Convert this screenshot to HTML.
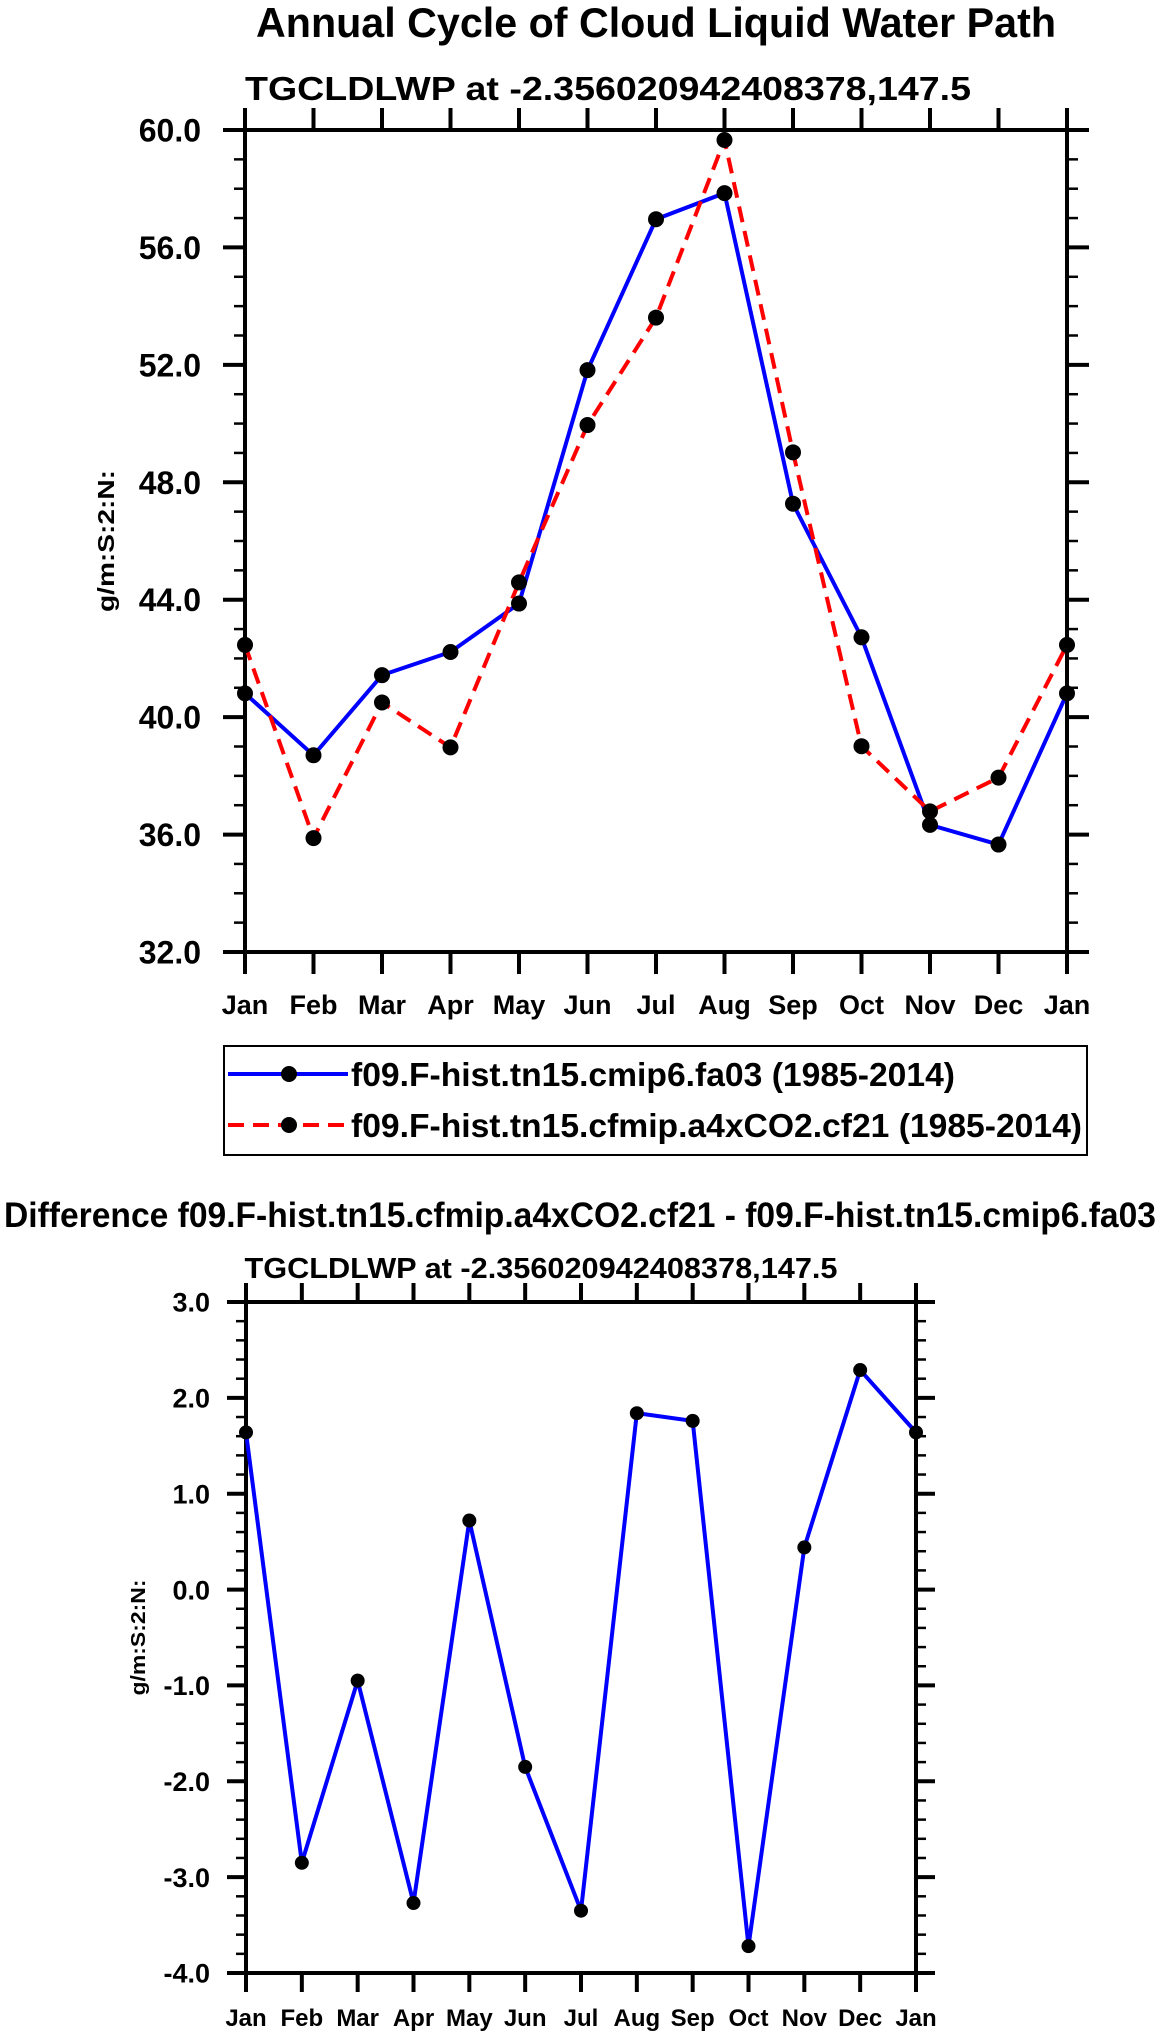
<!DOCTYPE html>
<html><head><meta charset="utf-8">
<style>
html,body{margin:0;padding:0;background:#fff;}
svg{display:block;font-family:"Liberation Sans",Arial,sans-serif;font-weight:bold;}
</style></head>
<body>
<svg id="chart" width="1161" height="2034" viewBox="0 0 1161 2034" xmlns="http://www.w3.org/2000/svg">
<text x="656" y="37" font-size="42" text-anchor="middle" textLength="800" lengthAdjust="spacingAndGlyphs">Annual Cycle of Cloud Liquid Water Path</text>
<text x="608" y="100" font-size="33" text-anchor="middle" textLength="726" lengthAdjust="spacingAndGlyphs">TGCLDLWP at -2.356020942408378,147.5</text>
<g id="top"></g>
<g>
<rect x="224" y="1046" width="863" height="109" fill="none" stroke="#000" stroke-width="2"/>
<line x1="228" y1="1074" x2="348" y2="1074" stroke="#0000ff" stroke-width="4"/>
<circle cx="289" cy="1074" r="8" fill="#000"/>
<text x="351" y="1086" font-size="33" textLength="604" lengthAdjust="spacingAndGlyphs">f09.F-hist.tn15.cmip6.fa03 (1985-2014)</text>
<line x1="228" y1="1125" x2="348" y2="1125" stroke="#ff0000" stroke-width="4" stroke-dasharray="16 9"/>
<circle cx="289" cy="1125" r="8" fill="#000"/>
<text x="351" y="1137" font-size="33" textLength="731" lengthAdjust="spacingAndGlyphs">f09.F-hist.tn15.cfmip.a4xCO2.cf21 (1985-2014)</text>
</g>
<text x="580" y="1227" font-size="35" text-anchor="middle" textLength="1152" lengthAdjust="spacingAndGlyphs">Difference f09.F-hist.tn15.cfmip.a4xCO2.cf21 - f09.F-hist.tn15.cmip6.fa03</text>
<text x="541" y="1278" font-size="29" text-anchor="middle" textLength="593" lengthAdjust="spacingAndGlyphs">TGCLDLWP at -2.356020942408378,147.5</text>
<g id="bot"></g>
</svg>
<script>
const months = ["Jan","Feb","Mar","Apr","May","Jun","Jul","Aug","Sep","Oct","Nov","Dec","Jan"];
const blueVals = [40.81,38.70,41.43,42.22,43.87,51.82,56.96,57.85,47.27,42.72,36.33,35.66,40.81];
const redVals = [42.46,35.88,40.50,38.97,44.59,49.95,53.61,59.66,49.02,39.01,36.79,37.94,42.46];
const diffVals = [1.64,-2.85,-0.95,-3.27,0.72,-1.85,-3.35,1.84,1.76,-3.72,0.44,2.29,1.64];
const topTicks = [32,36,40,44,48,52,56,60];
const topTickLabels = ["32.0","36.0","40.0","44.0","48.0","52.0","56.0","60.0"];
const botTicks = [-4,-3,-2,-1,0,1,2,3];
const botTickLabels = ["-4.0","-3.0","-2.0","-1.0","0.0","1.0","2.0","3.0"];
const NS="http://www.w3.org/2000/svg";
function mk(parent,tag,attrs,text){const e=document.createElementNS(NS,tag);for(const k in attrs)e.setAttribute(k,attrs[k]);if(text!==undefined)e.textContent=text;parent.appendChild(e);return e;}
function drawChart(g,cfg){
  const {L,R,T,B,ymin,ymax,minorStep,majLen,minLen,xfs,yfs,ylabX,xlabY,titleX,titleLen,titleFs}=cfg;
  const xs=i=>L+(R-L)*i/12;
  const ys=v=>B-(B-T)*(v-ymin)/(ymax-ymin);
  for(let v=ymin;v<=ymax+1e-6;v+=minorStep){
    const y=ys(v);
    const m1=mk(g,'line',{x1:L-minLen,x2:L,y1:y,y2:y,stroke:'#000','stroke-width':2.5});
    
    
    const m2=mk(g,'line',{x1:R,x2:R+minLen,y1:y,y2:y,stroke:'#000','stroke-width':2.5});
    
    
  }
  cfg.ticks.forEach((v,i)=>{
    const y=ys(v);
    const t1=mk(g,'line',{x1:L-majLen,x2:L,y1:y,y2:y,stroke:'#000','stroke-width':4});
    
    
    const t2=mk(g,'line',{x1:R,x2:R+majLen,y1:y,y2:y,stroke:'#000','stroke-width':4});
    
    
    const tl=mk(g,'text',{x:ylabX,y:y+yfs*0.36,'font-size':yfs,'text-anchor':'end'},cfg.tickLabels[i]);
    
    
  });
  months.forEach((m,i)=>{
    const x=xs(i);
    const a=mk(g,'line',{x1:x,x2:x,y1:T-majLen,y2:T,stroke:'#000','stroke-width':4});
    
    
    const b=mk(g,'line',{x1:x,x2:x,y1:B,y2:B+majLen,stroke:'#000','stroke-width':4});
    
    
    const t=mk(g,'text',{x:x,y:xlabY,'font-size':xfs,'text-anchor':'middle'},m);
    
    
  });
  const fr=mk(g,'rect',{x:L,y:T,width:R-L,height:B-T,fill:'none',stroke:'#000','stroke-width':4});
  
  
  const yt=mk(g,'text',{x:0,y:0,'font-size':titleFs,'text-anchor':'middle',textLength:titleLen,lengthAdjust:'spacingAndGlyphs',transform:`translate(${titleX},${(T+B)/2}) rotate(-90)`},'g/m:S:2:N:');
  
  
  cfg.series.forEach(s=>{
    const pts=s.vals.map((v,i)=>xs(i)+','+ys(v)).join(' ');
    const pl=mk(g,'polyline',{points:pts,fill:'none',stroke:s.color,'stroke-width':4,'stroke-dasharray':s.dash||'none','stroke-linejoin':'miter'});
    
    
  });
  cfg.series.forEach(s=>{
    s.vals.forEach((v,i)=>{
      const c=mk(g,'circle',{cx:xs(i),cy:ys(v),r:cfg.r,fill:'#000'});
      
      
    });
  });
}
drawChart(document.getElementById('top'),{L:245,R:1067,T:130,B:952,ymin:32,ymax:60,minorStep:1,majLen:22,minLen:11,xfs:27,yfs:32,ylabX:201,xlabY:1014,titleX:114,titleLen:142,titleFs:23,r:8,
  ticks:topTicks,tickLabels:topTickLabels,
  series:[{name:'blue-series',vals:blueVals,color:'#0000ff'},{name:'red-series',vals:redVals,color:'#ff0000',dash:'16 9'}]});
drawChart(document.getElementById('bot'),{L:246,R:916,T:1302,B:1973,ymin:-4,ymax:3,minorStep:0.2,majLen:19,minLen:10,xfs:24,yfs:27,ylabX:210,xlabY:2026,titleX:145,titleLen:116,titleFs:20,r:7,
  ticks:botTicks,tickLabels:botTickLabels,
  series:[{name:'difference-series',vals:diffVals,color:'#0000ff'}]});
</script>
</body></html>
